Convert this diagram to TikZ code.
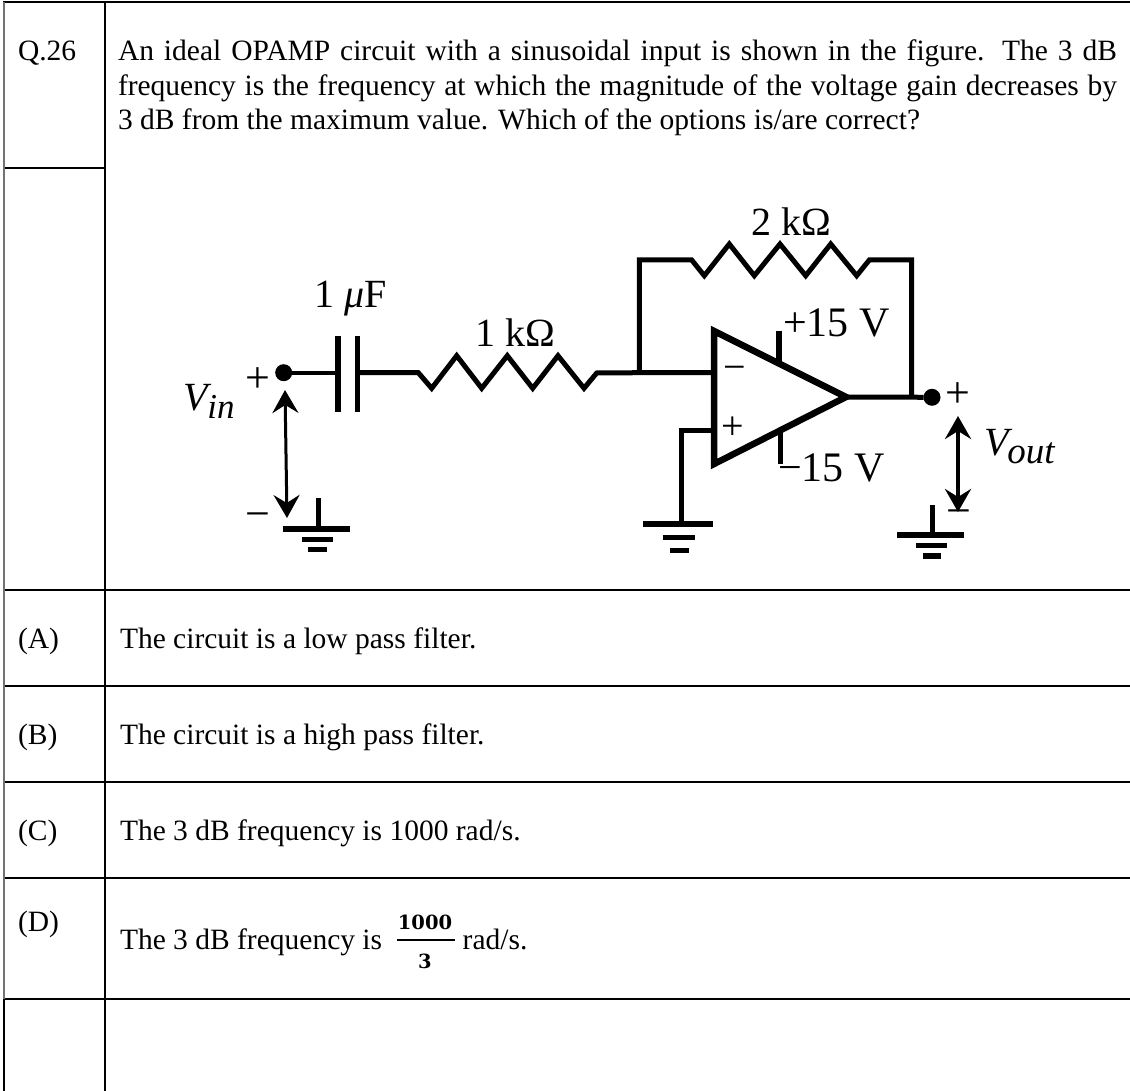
\documentclass[tikz,border=0pt]{standalone}
\usepackage{fontspec}
\setmainfont{Liberation Serif}
\newfontfamily\fracfont{DejaVu Serif}
\usetikzlibrary{arrows.meta}
\tikzset{
  txt/.style={anchor=base west,inner sep=0pt,outer sep=0pt,font=\fontsize{29.5}{34}\selectfont},
  lab/.style={anchor=base west,inner sep=0pt,outer sep=0pt,font=\fontsize{40}{46}\selectfont},
  sym/.style={anchor=center,inner sep=0pt,outer sep=0pt,font=\fontsize{44}{50}\selectfont},
  rule/.style={line width=2pt,black},
  ruleg/.style={line width=2pt,black!55},
  wire/.style={line width=5pt,line join=miter,black},
  gbar/.style={line width=5.5pt,black},
  volt/.style={line width=3pt,{Stealth[length=23pt,width=26pt,inset=8pt]}-{Stealth[length=23pt,width=26pt,inset=8pt]}},
  term/.style={circle,fill=black,minimum size=17pt,inner sep=0pt,outer sep=0pt}
}
\begin{document}
\begin{tikzpicture}[x=1pt,y=-1pt]
\useasboundingbox (0,0) rectangle (1130,1091);
% table
\draw[line width=2.6pt] (3,2) -- (1130,2);
\draw[rule] (4,168) -- (105,168);
\draw[rule] (4,590) -- (1130,590);
\draw[rule] (4,686) -- (1130,686);
\draw[rule] (4,782) -- (1130,782);
\draw[rule] (4,878) -- (1130,878);
\draw[rule] (4,999) -- (1130,999);
\draw[ruleg] (4,2) -- (4,999);
\draw[rule] (4,999) -- (4,1091);
\draw[line width=1.3pt] (105,2) -- (105,999);
\draw[rule] (105,999) -- (105,1091);
% texts
\node[txt] (q) at (18,61) {Q.26};
\node[txt] (l1) at (118,61) {\makebox[999pt][s]{An ideal OPAMP circuit with a sinusoidal input is shown in the figure. The 3 dB}};
\node[txt] (l2) at (118,96) {\makebox[999pt][s]{frequency is the frequency at which the magnitude of the voltage gain decreases by}};
\node[txt] (l3) at (118,130) {3 dB from the maximum value. Which of the options is/are correct?};
\node[txt] (a) at (18,648) {(A)};
\node[txt] (at) at (120,648) {The circuit is a low pass filter.};
\node[txt] (b) at (18,744) {(B)};
\node[txt] (bt) at (120,744) {The circuit is a high pass filter.};
\node[txt] (c) at (18,840.5) {(C)};
\node[txt] (ct) at (120,840.5) {The 3 dB frequency is 1000 rad/s.};
\node[txt] (d) at (18,931) {(D)};
\node[txt] (dt) at (120,949) {The 3 dB frequency is};
\node[anchor=base,inner sep=0pt,font=\fracfont\bfseries\fontsize{19.5}{24}\selectfont] (fn) at (425,929) {1000};
\node[anchor=base,inner sep=0pt,font=\fracfont\bfseries\fontsize{19.5}{24}\selectfont] (fd) at (425,968) {3};
\coordinate (fbl) at (397,940);
\coordinate (fbr) at (455,940);
\draw[line width=2.4pt] (fbl) -- (fbr);
\node[txt] (dr) at (462.7,949) {rad/s.};
% input side
\node[term] (vin) at (283.7,372.7) {};
\coordinate (c1) at (338,372.7);
\coordinate (c2) at (357.7,372.7);
\coordinate (r1a) at (418.3,372.7);
\coordinate (j1) at (639.3,372.7);
\coordinate (im) at (714,372.7);
\draw[line width=4.4pt] (vin) -- (c1);
\draw[gbar] (338,336) -- (338,411.7);
\draw[gbar] (357.7,336) -- (357.7,411.7);
\draw[wire] (c2) -- (r1a) -- (431.7,388.3) -- (456.7,355.7) -- (481.7,388.3) -- (507.3,355.7) -- (532.7,388.3) -- (558,355.7) -- (584,388.3) -- (596.7,373) -- (j1) -- (im);
% feedback
\coordinate (out) at (911.7,397);
\draw[wire] (j1) -- (639.3,260) -- (691.7,260) -- (704.3,275.7) -- (729.3,244) -- (754.3,275.7) -- (780,244) -- (805.7,275.7) -- (830.7,244) -- (856.7,275.7) -- (869.3,260) -- (911.7,260) -- (out);
% opamp
\coordinate (oa) at (714,331);
\coordinate (ob) at (714,464);
\coordinate (oc) at (846,397);
\draw[line width=6.5pt,line join=miter,miter limit=10] (oa) -- (oc) -- (ob) -- cycle;
\draw[gbar] (779,330.7) -- (779,362);
\draw[gbar] (780.3,431) -- (780.3,464);
\node[term] (vout) at (932,397.3) {};
\draw[wire] (oc) -- (vout);
\coordinate (ip) at (714,430);
\coordinate (g2) at (681,524);
\draw[wire] (ip) -| (g2);
% grounds
\draw[wire] (318.7,498) -- (318.7,529);
\draw[gbar] (282.7,529) -- (350,529);
\draw[gbar] (301.7,539.5) -- (333.3,539.5);
\draw[gbar] (308,549.5) -- (327,549.5);
\draw[gbar] (643.3,524) -- (712.7,524);
\draw[gbar] (662.7,537.3) -- (695,537.3);
\draw[gbar] (670,550.7) -- (689,550.7);
\draw[wire] (932.7,505) -- (932.7,535);
\draw[gbar] (897,535) -- (964,535);
\draw[gbar] (916,545.5) -- (947,545.5);
\draw[gbar] (922.7,556) -- (941,556);
% voltage arrows
\coordinate (ait) at (285,390);
\coordinate (aib) at (287,518);
\draw[volt] (ait) -- (aib);
\coordinate (aot) at (958,416);
\coordinate (aob) at (958,512);
\draw[volt,line width=3.8pt] (aot) -- (aob);
% labels
\node[lab] (lc) at (314,307.3) {1 \textit{μ}F};
\node[lab] (lr1) at (475,346) {1 kΩ};
\node[lab] (lr2) at (751.7,236) {2 kΩ};
\node[lab,font=\fontsize{42}{48}\selectfont] (lp) at (783,336.7) {+15 V};
\node[lab,font=\fontsize{42}{48}\selectfont] (ln) at (778,481.7) {−15 V};
\node[lab] (lvi) at (183,410.7) {\textit{V}\raisebox{-8pt}{\kern-4pt\fontsize{35}{40}\selectfont\textit{in}}};
\node[lab] (lvo) at (984,455) {\textit{V}\raisebox{-8pt}{\kern-5pt\fontsize{37}{42}\selectfont\textit{out}}};
\node[sym] (pi) at (258,380) {+};
\node[sym] (mi) at (258,520.5) {−};
\node[sym] (ppo) at (957.5,395) {+};
\node[sym] (mo) at (958.5,518) {−};
\node[sym,font=\fontsize{40}{46}\selectfont] (om) at (734.5,373.3) {−};
\node[sym,font=\fontsize{40}{46}\selectfont] (op) at (733,428) {+};
\end{tikzpicture}
\end{document}
